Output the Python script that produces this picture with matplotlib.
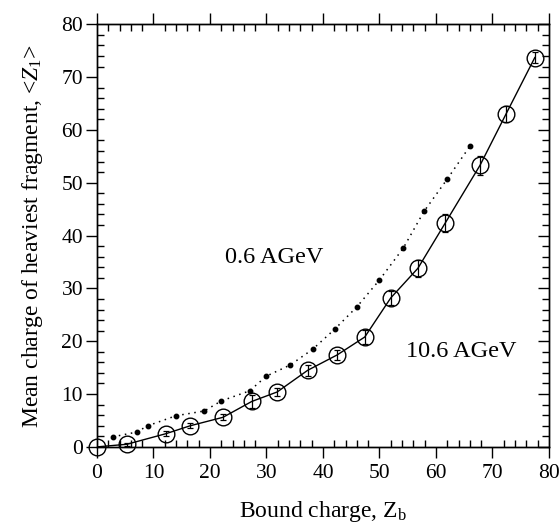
import numpy as np
import matplotlib
matplotlib.use("Agg")
import matplotlib.pyplot as plt
from matplotlib.ticker import MultipleLocator

plt.rcParams["font.family"] = ["Liberation Serif", "DejaVu Serif"]
plt.rcParams["mathtext.fontset"] = "custom"
plt.rcParams["mathtext.rm"] = "Liberation Serif"
plt.rcParams["mathtext.it"] = "Liberation Serif:italic"

# 10.6 AGeV (open circles with error bars)
zb_hi = [0, 5.3, 12.2, 16.5, 22.3, 27.4, 31.9, 37.3, 42.5, 47.4, 52.0, 56.8, 61.6, 67.8, 72.4, 77.5]
z1_hi = [0, 0.5, 2.5, 4.0, 5.6, 8.6, 10.4, 14.5, 17.4, 20.8, 28.2, 33.8, 42.3, 53.3, 63.0, 73.7]
err_hi = [0, 0.3, 0.5, 0.5, 0.6, 1.2, 0.8, 1.0, 1.0, 1.4, 1.3, 1.6, 1.7, 1.8, 1.5, 1.0]

# 0.6 AGeV (small dots, dotted line)
zb_lo = [2.8, 7.0, 9.0, 14.0, 19.0, 22.0, 27.0, 30.0, 34.2, 38.2, 42.1, 46.0, 50.0, 54.2, 57.9, 62.0, 66.0]
z1_lo = [1.9, 2.8, 4.0, 5.9, 6.8, 8.7, 10.6, 13.4, 15.5, 18.5, 22.3, 26.5, 31.6, 37.6, 44.6, 50.7, 56.9]

fig = plt.figure(figsize=(5.59, 5.27), dpi=100)
ax = fig.add_axes([0.1735, 0.152, 0.8085, 0.802])

ax.plot(zb_hi, z1_hi, "-", color="black", lw=1.0)
ax.errorbar(zb_hi, z1_hi, yerr=err_hi, fmt="none", ecolor="black",
            elinewidth=0.9, capsize=2.5, capthick=0.9)
ax.plot(zb_hi, z1_hi, "o", ms=12, mfc="none", mec="black", mew=1.0,
        clip_on=False, zorder=5)

ax.plot(zb_lo, z1_lo, linestyle=(0, (1, 3)), color="black", lw=1.1)
ax.plot(zb_lo, z1_lo, "o", ms=3.2, color="black", lw=0)

ax.text(31.3, 35.9, "0.6 AGeV", fontsize=17.5, ha="center", va="center")
ax.text(64.5, 18.1, "10.6 AGeV", fontsize=17.5, ha="center", va="center")

ax.set_xlim(0, 80)
ax.set_ylim(0, 80)
ax.xaxis.set_major_locator(MultipleLocator(10))
ax.xaxis.set_minor_locator(MultipleLocator(2))
ax.yaxis.set_major_locator(MultipleLocator(10))
ax.yaxis.set_minor_locator(MultipleLocator(2))

ax.tick_params(axis="x", which="major", direction="out", length=8, width=1,
               top=True, labelsize=15.5, pad=4)
ax.tick_params(axis="x", which="minor", direction="in", length=5, width=1, top=True)
ax.tick_params(axis="y", which="major", direction="out", length=8, width=1,
               right=False, labelsize=15.5, pad=2)
ax.tick_params(axis="y", which="minor", direction="in", length=5, width=1, right=False)

ax2 = ax.twinx()
ax2.set_ylim(0, 80)
ax2.yaxis.set_major_locator(MultipleLocator(10))
ax2.yaxis.set_minor_locator(MultipleLocator(2))
ax2.tick_params(axis="y", which="major", direction="in", length=8, width=1, labelright=False)
ax2.tick_params(axis="y", which="minor", direction="in", length=5, width=1)

for a in (ax, ax2):
    for s in a.spines.values():
        s.set_linewidth(1.0)

ax.set_xlabel("Bound charge, Z$_\\mathrm{b}$", fontsize=17, labelpad=12)
ax.set_ylabel("Mean charge of heaviest fragment, <$\\mathit{Z}_\\mathrm{1}$>",
              fontsize=17, labelpad=12)

fig.savefig("out.png", dpi=100)
